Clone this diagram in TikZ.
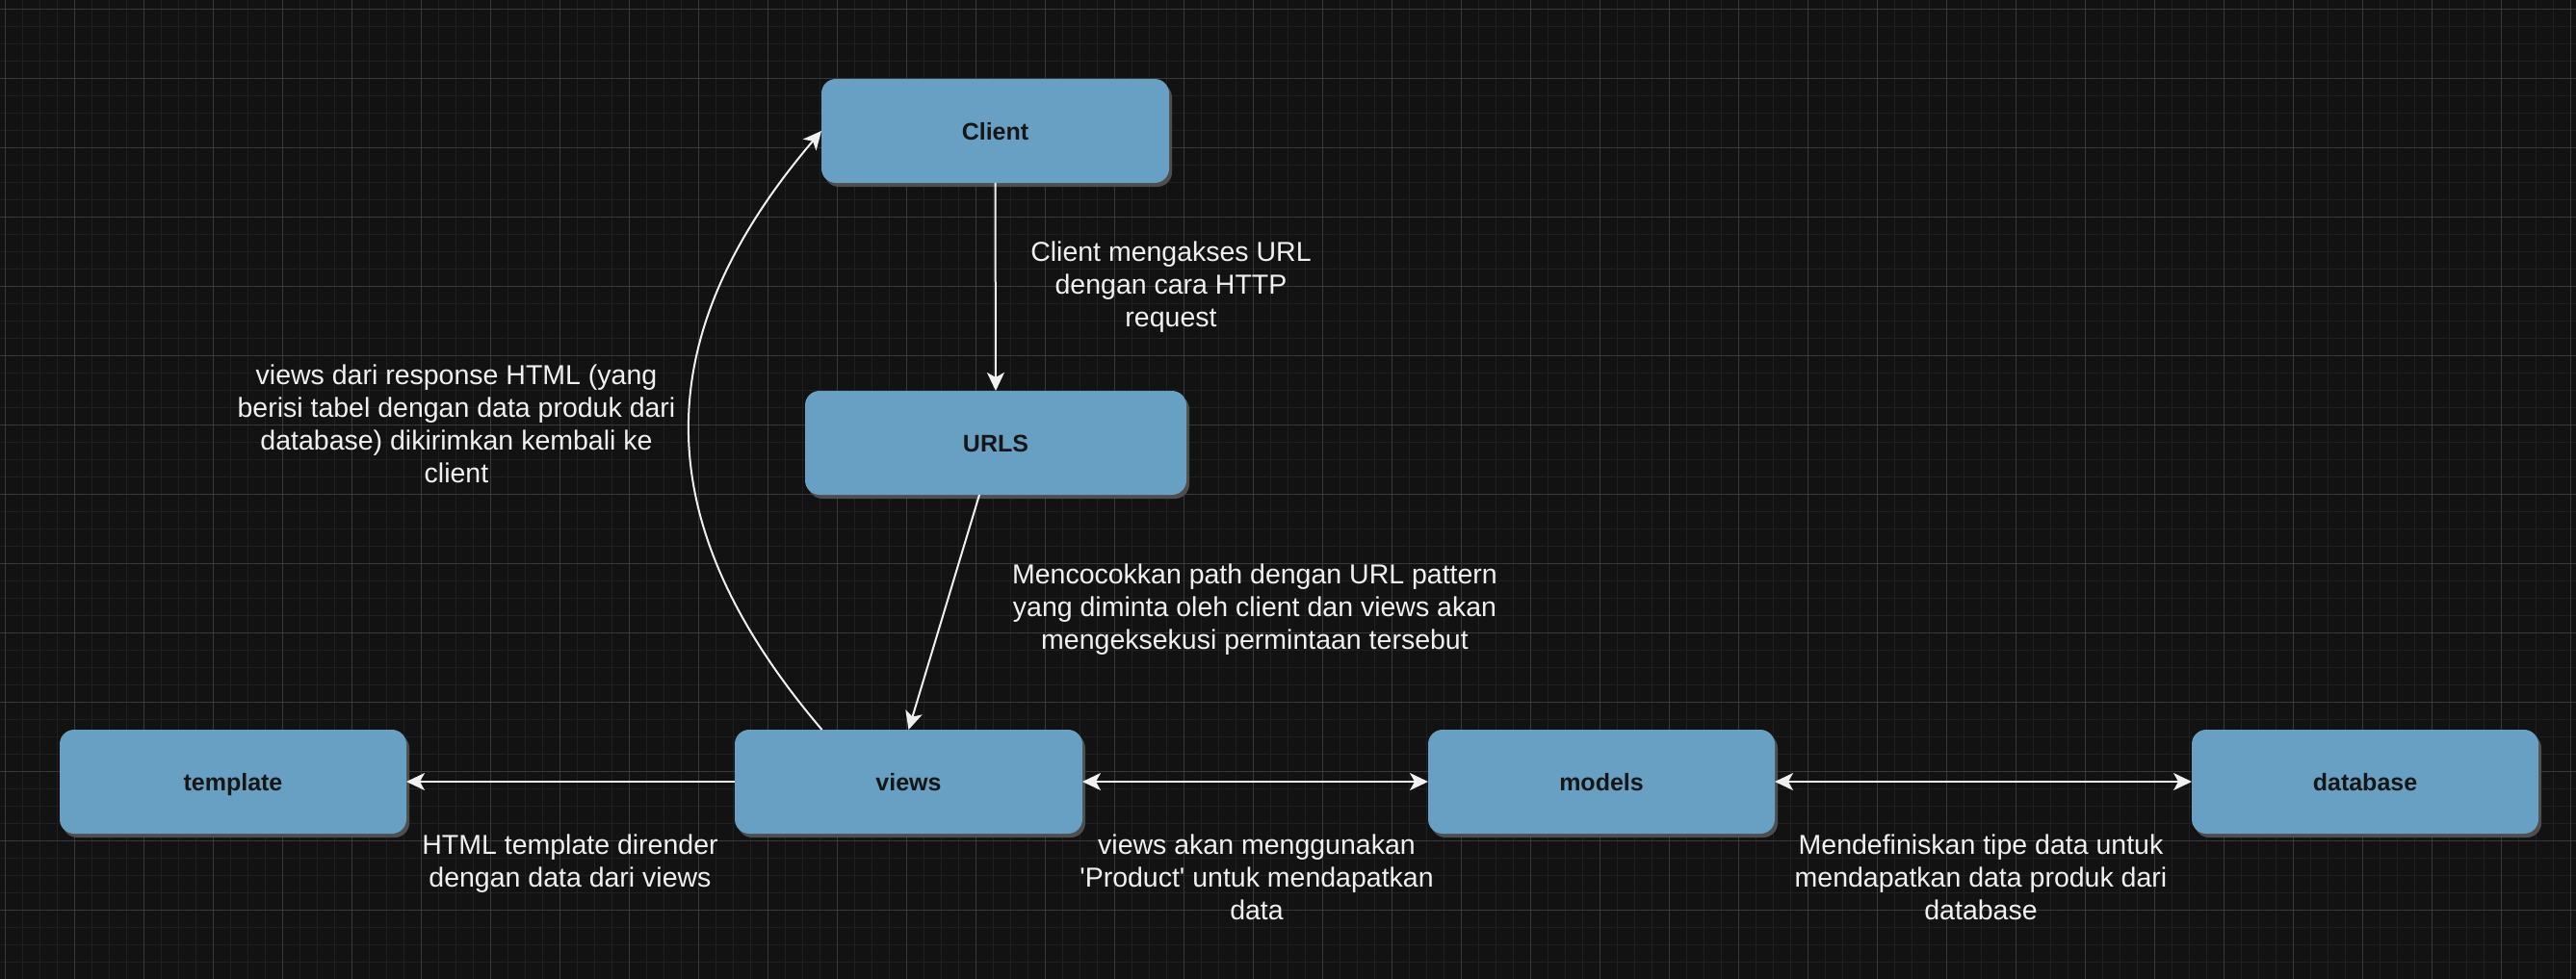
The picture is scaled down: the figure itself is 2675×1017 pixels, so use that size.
\documentclass[tikz,border=0pt]{standalone}
\usepackage{fontspec}
\setmainfont{Liberation Sans}
\usetikzlibrary{arrows.meta,shadows}
\definecolor{bgc}{HTML}{121212}
\definecolor{minorc}{HTML}{202020}
\definecolor{majorc}{HTML}{393939}
\definecolor{boxc}{HTML}{67A0C3}
\definecolor{shadc}{HTML}{4E4E4E}
\definecolor{boxtxt}{HTML}{161616}
\definecolor{linec}{HTML}{F0F0F0}
\tikzset{
  box/.style={rectangle, rounded corners=15pt, fill=boxc, draw=none,
    minimum width=361pt, minimum height=108pt, outer sep=0pt, inner sep=0pt,
    text=boxtxt, font=\fontsize{25}{30}\selectfont\bfseries,
    text height=18pt, text depth=0pt,
    drop shadow={shadow xshift=3pt, shadow yshift=-4pt, fill=shadc, opacity=1}},
  lbl/.style={align=center, text=linec, inner sep=0pt,
    font=\fontsize{28.5}{34}\selectfont},
  conn/.style={draw=linec, line width=2pt},
  tip/.style={-{Stealth[length=19pt,width=18pt,inset=5pt]}},
  tips/.style={{Stealth[length=19pt,width=18pt,inset=5pt]}-{Stealth[length=19pt,width=18pt,inset=5pt]}}
}
\begin{document}
\begin{tikzpicture}[x=1pt,y=-1pt]
\useasboundingbox (0,0) rectangle (2675,1017);
\fill[bgc] (0,0) rectangle (2675,1017);
% minor grid
\foreach \gx in {5,23,...,2675} \draw[minorc,line width=1pt] (\gx,0) -- (\gx,1017);
\foreach \gy in {9,27,...,1017} \draw[minorc,line width=1pt] (0,\gy) -- (2675,\gy);
% major grid
\foreach \gx in {5,77,...,2675} \draw[majorc,line width=1pt] (\gx,0) -- (\gx,1017);
\foreach \gy in {9,81,...,1017} \draw[majorc,line width=1pt] (0,\gy) -- (2675,\gy);

% boxes
\node[box] (client) at (1033.5,136) {Client};
\node[box, minimum width=396pt] (urls) at (1034,460) {URLS};
\node[box, minimum width=360pt] (template) at (242,812) {template};
\node[box] (views) at (943.5,812) {views};
\node[box, minimum width=360pt] (models) at (1663,812) {models};
\node[box, minimum width=360pt] (database) at (2456,812) {database};

% connectors
\draw[conn,tip] (client.south) -- (urls.north);
\draw[conn,tip] ([xshift=-17pt]urls.south) -- (views.north);
\draw[conn,tip] ([xshift=-90pt]views.north) .. controls +(-183,-215) and +(-183,215) .. (client.west);
\draw[conn,tip] (views.west) -- (template.east);
\draw[conn,tips] (views.east) -- (models.west);
\draw[conn,tips] (models.east) -- (database.west);

% labels
\node[lbl] (t1) at (1216,298) {Client mengakses URL\\dengan cara HTTP\\request};
\node[lbl] (t2) at (474,440) {views dari response HTML (yang\\berisi tabel dengan data produk dari\\database) dikirimkan kembali ke\\client};
\node[lbl] (t3) at (1303,633) {Mencocokkan path dengan URL pattern\\yang diminta oleh client dan views akan\\mengeksekusi permintaan tersebut};
\node[lbl] (t4) at (592,897) {HTML template dirender\\dengan data dari views};
\node[lbl] (t5) at (1305,911) {views akan menggunakan\\\textquotesingle Product\textquotesingle{} untuk mendapatkan\\data};
\node[lbl] (t6) at (2057,911) {Mendefiniskan tipe data untuk\\mendapatkan data produk dari\\database};
\end{tikzpicture}
\end{document}
